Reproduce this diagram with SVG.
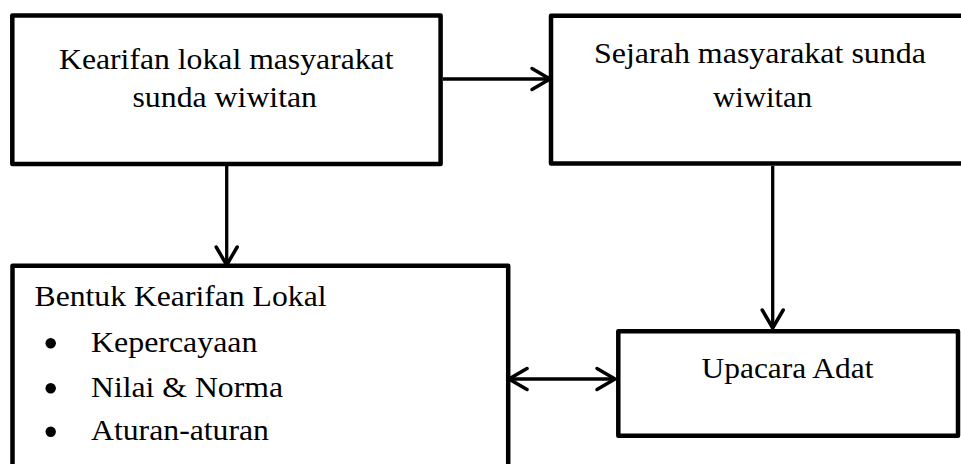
<svg xmlns="http://www.w3.org/2000/svg" width="961" height="464" viewBox="0 0 961 464">
<defs>
<style>
.box{fill:#fff;stroke:#000;stroke-width:4.5;stroke-linejoin:round}
.t{font-family:"Liberation Serif","Times New Roman",serif;font-size:30px;fill:#000}
.ln{stroke:#000;stroke-width:3.3;fill:none}
</style>
<marker id="ah" markerUnits="userSpaceOnUse" viewBox="-22 -13 26 26" refX="0" refY="0" markerWidth="26" markerHeight="26" orient="auto-start-reverse">
<path d="M-18,-10.5 L0,0 L-18,10.5" fill="none" stroke="#000" stroke-width="3.5" stroke-linecap="round" stroke-linejoin="miter"/>
</marker>
</defs>
<rect width="961" height="464" fill="#fff"/>
<g id="connectors">
<line class="ln" x1="443" y1="79" x2="550" y2="79" marker-end="url(#ah)"/>
<line class="ln" x1="226.7" y1="166" x2="226.7" y2="265" marker-end="url(#ah)"/>
<line class="ln" x1="772.7" y1="166" x2="772.7" y2="328" marker-end="url(#ah)"/>
<line class="ln" x1="509" y1="379" x2="615" y2="379" marker-start="url(#ah)" marker-end="url(#ah)"/>
</g>
<g id="node-kearifan">
<rect class="box" x="12.3" y="15.5" width="428.3" height="148.5"/>
<text class="t" x="59" y="69.3" textLength="334.5" lengthAdjust="spacingAndGlyphs">Kearifan lokal masyarakat</text>
<text class="t" x="132.5" y="106.7" textLength="184.5" lengthAdjust="spacingAndGlyphs">sunda wiwitan</text>
</g>
<g id="node-sejarah">
<rect class="box" x="551" y="15.7" width="420" height="147.8"/>
<text class="t" x="594" y="62.7" textLength="332" lengthAdjust="spacingAndGlyphs">Sejarah masyarakat sunda</text>
<text class="t" x="713" y="106.7" textLength="99" lengthAdjust="spacingAndGlyphs">wiwitan</text>
</g>
<g id="node-bentuk">
<rect class="box" x="12.5" y="265.8" width="495.7" height="220"/>
<text class="t" x="34.5" y="306" textLength="292" lengthAdjust="spacingAndGlyphs">Bentuk Kearifan Lokal</text>
<circle cx="50.7" cy="343.3" r="5.2"/>
<text class="t" x="91" y="351.7" textLength="166.5" lengthAdjust="spacingAndGlyphs">Kepercayaan</text>
<circle cx="50.7" cy="388.3" r="5.2"/>
<text class="t" x="91" y="396.7" textLength="192" lengthAdjust="spacingAndGlyphs">Nilai &amp; Norma</text>
<circle cx="50.7" cy="431.7" r="5.2"/>
<text class="t" x="91" y="440" textLength="178" lengthAdjust="spacingAndGlyphs">Aturan-aturan</text>
</g>
<g id="node-upacara">
<rect class="box" x="618.3" y="331.2" width="339.7" height="104.6"/>
<text class="t" x="701.5" y="378.3" textLength="172" lengthAdjust="spacingAndGlyphs">Upacara Adat</text>
</g>
</svg>
